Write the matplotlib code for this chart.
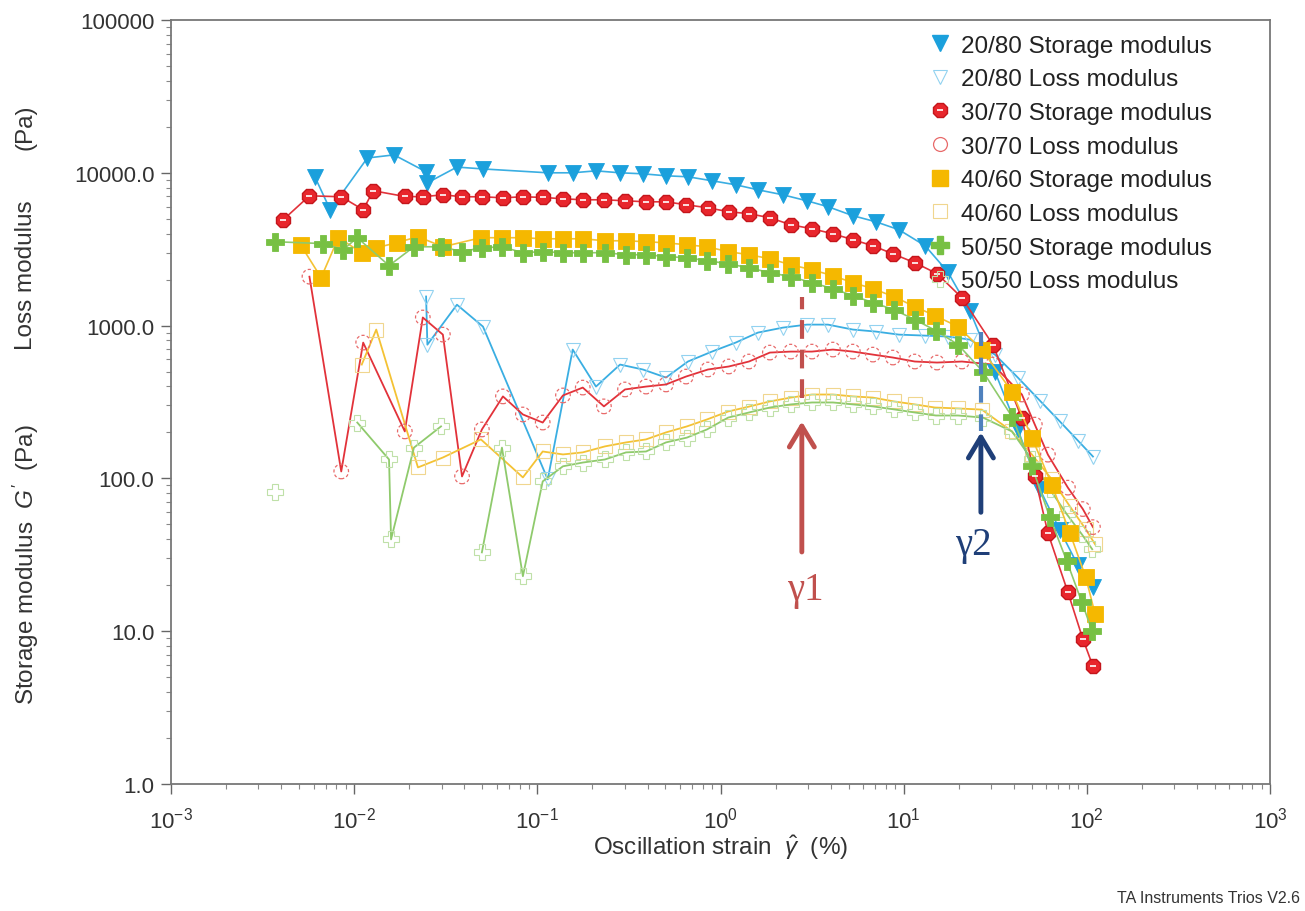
#!/usr/bin/env python3
"""
Amplitude sweep of four blends (20/80 ... 50/50): storage and loss modulus
against oscillation strain, with the gamma1 / gamma2 limits marked.
    python plot.py
"""

import numpy as np
import matplotlib
matplotlib.use("Agg")
import matplotlib.pyplot as plt
from matplotlib.lines import Line2D
from matplotlib.ticker import LogLocator, NullFormatter

plt.rcParams["font.family"] = ["Liberation Sans", "DejaVu Sans"]
plt.rcParams["mathtext.fontset"] = "custom"
plt.rcParams["mathtext.rm"] = "Liberation Sans"
plt.rcParams["mathtext.it"] = "Liberation Sans:italic"

nan = np.nan

# ---- 20/80 : strain (%), G' (Pa), G'' (Pa)
strain_2080 = [0.0061, 0.0074, 0.0118, 0.0165, 0.0247, 0.0251, 0.0364, 0.0505,
               0.114, 0.156, 0.209, 0.283, 0.377, 0.504, 0.664, 0.898, 1.21,
               1.60, 2.19, 2.96, 3.86, 5.28, 7.05, 9.42, 13.1, 17.4, 23.0,
               31.5, 42.0, 55.4, 71.2, 89.3, 108]
storage_2080 = [9420, 5730, 12500, 13100, 10150, 8600, 10900, 10600,
                10000, 10000, 10300, 10000, 9850, 9560, 9420, 8870, 8350,
                7740, 7180, 6560, 6000, 5240, 4780, 4240, 3330, 2250, 1250,
                500, 209, 85, 46, 27, 19.4]
loss_2080 = [nan, nan, nan, nan, 1550, 750, 1370, 985,
             98.5, 697, 399, 556, 516, 457, 582, 676, 774,
             900, 970, 1015, 1015, 942, 914, 873, 860, 848, 810,
             646, 457, 323, 236, 177, 139]

# ---- 30/70
strain_3070 = [0.0041, 0.0057, 0.0085, 0.0112, 0.0127, 0.0189, 0.0237, 0.0305,
               0.0388, 0.0498, 0.0649, 0.0834, 0.107, 0.138, 0.177, 0.231,
               0.301, 0.392, 0.504, 0.648, 0.854, 1.11, 1.43, 1.86, 2.42,
               3.16, 4.11, 5.28, 6.79, 8.73, 11.5, 15.2, 20.8, 30.7, 44.2,
               52.0, 61.3, 78.8, 95.1, 108]
storage_3070 = [4930, 7070, 6970, 5730, 7630, 7000, 6970, 7180,
                6970, 6970, 6860, 6970, 6900, 6760, 6660, 6660,
                6560, 6460, 6460, 6180, 5900, 5560, 5400, 5080, 4570,
                4300, 3990, 3650, 3330, 2950, 2580, 2190, 1520, 750, 247,
                103, 44, 18, 8.9, 5.9]
loss_3070 = [nan, 2090, 111, 774, nan, 203, 1130, 873,
             103, 209, 344, 262, 232, 349, 393, 296,
             382, 399, 412, 464, 516, 540, 582, 666, 676,
             676, 697, 676, 646, 618, 582, 573, 582, 556, 354,
             225, 143, 87, 63, 48]

# ---- 40/60
strain_4060 = [0.0051, 0.0066, 0.0082, 0.0110, 0.0132, 0.0171, 0.0223, 0.0305,
               0.0492, 0.0641, 0.0834, 0.107, 0.138, 0.177, 0.234, 0.305,
               0.392, 0.504, 0.656, 0.843, 1.10, 1.43, 1.86, 2.42, 3.16,
               4.11, 5.28, 6.79, 8.84, 11.5, 14.8, 19.8, 26.7, 39.0, 50.1,
               64.4, 80.8, 98.7, 111]
storage_4060 = [3380, 2060, 3760, 3000, 3230, 3490, 3820, 3280,
                3760, 3760, 3760, 3700, 3700, 3700, 3590, 3590,
                3540, 3480, 3380, 3280, 3050, 2910, 2740, 2500, 2320,
                2120, 1910, 1745, 1547, 1331, 1163, 985, 697, 370, 185,
                91, 44, 22.5, 12.9]
loss_4060 = [nan, nan, nan, 556, 942, nan, 118, 137,
             180, nan, 101.5, 150, 143.5, 148, 162, 172,
             180, 200, 219, 243, 274, 295, 319, 338, 354,
             354, 344, 338, 319, 305, 291, 287, 282, 203, 143.5,
             98.5, 65.6, 46.4, 37.0]

# ---- 50/50
strain_5050 = [0.0037, 0.0068, 0.0087, 0.0104, 0.0155, 0.0159, 0.0212, 0.0298,
               0.0388, 0.0498, 0.0641, 0.0834, 0.107, 0.138, 0.177, 0.234,
               0.305, 0.392, 0.504, 0.656, 0.843, 1.10, 1.43, 1.86, 2.42,
               3.16, 4.11, 5.28, 6.79, 8.84, 11.5, 15.0, 19.8, 27.1, 39.0,
               50.1, 62.8, 77.8, 93.9, 107]
storage_5050 = [3540, 3440, 3140, 3760, 2470, nan, 3280, 3280,
                3050, 3230, 3280, 3000, 3050, 3000, 3000, 3000,
                2910, 2910, 2830, 2780, 2660, 2540, 2390, 2220, 2090,
                1910, 1745, 1571, 1414, 1272, 1094, 927, 751, 500, 254,
                120, 55.6, 28.7, 15.5, 10.0]
loss_5050 = [81, nan, nan, 232, 133, 39.9, 159, 219,
             nan, 32.8, 159, 22.9, 95.6, 120, 127, 133,
             148, 150, 172, 185, 209, 250, 270, 291, 305,
             314, 314, 305, 296, 283, 270, 258, 258, 250, 203,
             133, 84.8, 58.2, 43.1, 34.4]

LEGEND_LABELS = ["20/80 Storage modulus", "20/80 Loss modulus",
                 "30/70 Storage modulus", "30/70 Loss modulus",
                 "40/60 Storage modulus", "40/60 Loss modulus",
                 "50/50 Storage modulus", "50/50 Loss modulus"]

XTICKS = [1e-3, 1e-2, 1e-1, 1e0, 1e1, 1e2, 1e3]
XTICKLABELS = [r"$10^{-3}$", r"$10^{-2}$", r"$10^{-1}$", r"$10^{0}$",
               r"$10^{1}$", r"$10^{2}$", r"$10^{3}$"]
YTICKS = [1, 10, 100, 1000, 10000, 100000]
YTICKLABELS = ["1.0", "10.0", "100.0", "1000.0", "10000.0", "100000"]

# gamma1 / gamma2 markers: strain, dashed span (Pa), arrow tip/tail (Pa), label pos
GAMMA1 = 2.78
GAMMA1_DASH = (338, 1547)
GAMMA1_ARROW = (236, 33)
GAMMA1_TEXT = (2.92, 18.8)
GAMMA2 = 26.4
GAMMA2_DASH = (203, 914)
GAMMA2_ARROW = (200, 60)
GAMMA2_TEXT = (23.9, 37.0)

BLUE, BLUE_LINE, BLUE_LIGHT = "#1ba0dc", "#3aaee2", "#92d2f0"
RED, RED_EDGE, RED_LINE, RED_LIGHT = "#e8262c", "#c4161c", "#e2323a", "#e86a6a"
YEL, YEL_LINE, YEL_LIGHT = "#f5b800", "#f4c234", "#f0d68e"
GRN, GRN_LINE, GRN_LIGHT = "#77c043", "#8fca6c", "#bfe0a8"
ANN_RED = "#c0504d"
ANN_BLUE = "#4f81bd"
ANN_NAVY = "#1f3f78"
TXT = "#333333"


def draw(ax, x, y, color, lw, z, gaps=False, **kw):
    # gaps=True keeps NaNs so the line breaks where the instrument dropped a point
    x = np.asarray(x, float)
    y = np.asarray(y, float)
    ok = ~np.isnan(y)
    if gaps:
        ax.plot(x, y, color=color, lw=lw, zorder=z, **kw)
    else:
        ax.plot(x[ok], y[ok], color=color, lw=lw, zorder=z, **kw)
    return x[ok], y[ok]


def main():
    fig = plt.figure(figsize=(13.05, 9.12), dpi=100)
    ax = fig.add_axes([171 / 1305, 1 - 785 / 912, 1099 / 1305, 764 / 912])
    ax.set_xscale("log")
    ax.set_yscale("log")
    ax.set_xlim(1e-3, 1e3)
    ax.set_ylim(1, 1e5)

    # ---- loss modulus (open markers) underneath
    draw(ax, strain_2080, loss_2080, BLUE_LINE, 1.3, 2,
         marker="v", ms=10, mfc="none", mec=BLUE_LIGHT, mew=0.8)
    xr, yr = draw(ax, strain_3070, loss_3070, RED_LINE, 1.3, 2)
    ax.scatter(xr, yr, s=110, facecolors="none", edgecolors=RED_LIGHT,
               linewidths=0.9, linestyles=(0, (2.5, 1.8)), zorder=2.5)
    draw(ax, strain_4060, loss_4060, YEL_LINE, 1.3, 2,
         marker="s", ms=10, mfc="none", mec=YEL_LIGHT, mew=0.8)
    draw(ax, strain_5050, loss_5050, GRN_LINE, 1.3, 2, gaps=True,
         marker="P", ms=11, mfc="none", mec=GRN_LIGHT, mew=0.8)

    # ---- storage modulus (filled markers)
    draw(ax, strain_2080, storage_2080, BLUE_LINE, 1.2, 4,
         marker="v", ms=11, mfc=BLUE, mec=BLUE, mew=0.6)
    xr, yr = draw(ax, strain_3070, storage_3070, RED_LINE, 1.2, 4,
                  marker="8", ms=11.5, mfc=RED, mec=RED_EDGE, mew=1.0)
    ax.plot(xr, yr, ls="none", marker="_", ms=5, mec="white", mew=1.2, zorder=4.1)
    draw(ax, strain_4060, storage_4060, YEL_LINE, 1.2, 4,
         marker="s", ms=11, mfc=YEL, mec=YEL, mew=0.6)
    draw(ax, strain_5050, storage_5050, GRN_LINE, 1.2, 4,
         marker="P", ms=12.5, mfc=GRN, mec=GRN, mew=0.6)

    # ---- gamma1 / gamma2 markers
    ax.plot([GAMMA1, GAMMA1], GAMMA1_DASH, color=ANN_RED, lw=3.0,
            ls=(0, (4.5, 2.6)), zorder=6)
    ax.annotate("", xy=(GAMMA1, GAMMA1_ARROW[0]), xytext=(GAMMA1, GAMMA1_ARROW[1]),
                arrowprops=dict(arrowstyle="->,head_length=0.75,head_width=0.45",
                                lw=3.5, color=ANN_RED, mutation_scale=20,
                                shrinkA=0, shrinkB=0), zorder=6)
    ax.text(*GAMMA1_TEXT, "\u03b31", color=ANN_RED, fontsize=28,
            family="Liberation Serif", ha="center", va="center", zorder=6)

    ax.plot([GAMMA2, GAMMA2], GAMMA2_DASH, color=ANN_BLUE, lw=3.0,
            ls=(0, (4.0, 2.8)), zorder=6)
    ax.annotate("", xy=(GAMMA2, GAMMA2_ARROW[0]), xytext=(GAMMA2, GAMMA2_ARROW[1]),
                arrowprops=dict(arrowstyle="->,head_length=0.75,head_width=0.45",
                                lw=3.5, color=ANN_NAVY, mutation_scale=20,
                                shrinkA=0, shrinkB=0), zorder=6)
    ax.text(*GAMMA2_TEXT, "\u03b32", color=ANN_NAVY, fontsize=28,
            family="Liberation Serif", ha="center", va="center", zorder=6)

    # ---- axes styling
    ax.set_xticks(XTICKS, XTICKLABELS)
    ax.set_yticks(YTICKS, YTICKLABELS)
    ax.xaxis.set_minor_locator(LogLocator(base=10, subs=np.arange(2, 10), numticks=30))
    ax.yaxis.set_minor_locator(LogLocator(base=10, subs=np.arange(2, 10), numticks=30))
    ax.xaxis.set_minor_formatter(NullFormatter())
    ax.yaxis.set_minor_formatter(NullFormatter())
    ax.tick_params(which="major", direction="out", length=7, width=1.0,
                   color="#666666", labelsize=16, labelcolor=TXT)
    ax.tick_params(which="minor", direction="out", length=3.5, width=0.8,
                   color="#888888")
    ax.tick_params(axis="y", pad=5)
    ax.tick_params(axis="x", pad=9)
    for sp in ax.spines.values():
        sp.set_color("#777777")
        sp.set_linewidth(1.3)

    # ---- legend (markers only)
    handles = [
        Line2D([], [], ls="none", marker="v", ms=11, mfc=BLUE, mec=BLUE),
        Line2D([], [], ls="none", marker="v", ms=10, mfc="none", mec=BLUE_LIGHT, mew=0.8),
        (Line2D([], [], ls="none", marker="8", ms=11.5, mfc=RED, mec=RED_EDGE),
         Line2D([], [], ls="none", marker="_", ms=5, mec="white", mew=1.2)),
        Line2D([], [], ls="none", marker="o", ms=10, mfc="none", mec=RED_LIGHT, mew=0.9),
        Line2D([], [], ls="none", marker="s", ms=11, mfc=YEL, mec=YEL),
        Line2D([], [], ls="none", marker="s", ms=10, mfc="none", mec=YEL_LIGHT, mew=0.8),
        Line2D([], [], ls="none", marker="P", ms=12.5, mfc=GRN, mec=GRN),
        Line2D([], [], ls="none", marker="P", ms=11, mfc="none", mec=GRN_LIGHT, mew=0.8),
    ]
    leg = ax.legend(handles, LEGEND_LABELS, loc="upper left",
                    bbox_to_anchor=(0.689, 0.981), frameon=False, fontsize=17.5,
                    handlelength=1.0, handletextpad=0.35, labelspacing=0.48,
                    borderaxespad=0, borderpad=0)
    for t in leg.get_texts():
        t.set_color("#222222")

    # ---- axis titles
    fig.text(720.5 / 1305, 1 - 848 / 912, r"Oscillation strain  $\hat{\gamma}$  (%)",
             ha="center", va="center", fontsize=17.5, color=TXT)
    lx = 26 / 1305
    fig.text(lx, 1 - 705 / 912, r"Storage modulus  $G'$  (Pa)", rotation=90,
             ha="center", va="bottom", fontsize=17.5, color=TXT)
    fig.text(lx, 1 - 350 / 912, "Loss modulus", rotation=90,
             ha="center", va="bottom", fontsize=17.5, color=TXT)
    fig.text(lx, 1 - 150 / 912, "(Pa)", rotation=90,
             ha="center", va="bottom", fontsize=17.5, color=TXT)
    fig.text(1300 / 1305, 1 - 899 / 912, "TA Instruments Trios V2.6",
             ha="right", va="center", fontsize=11.5, color=TXT)

    fig.savefig("out.png", dpi=100)


if __name__ == "__main__":
    main()
